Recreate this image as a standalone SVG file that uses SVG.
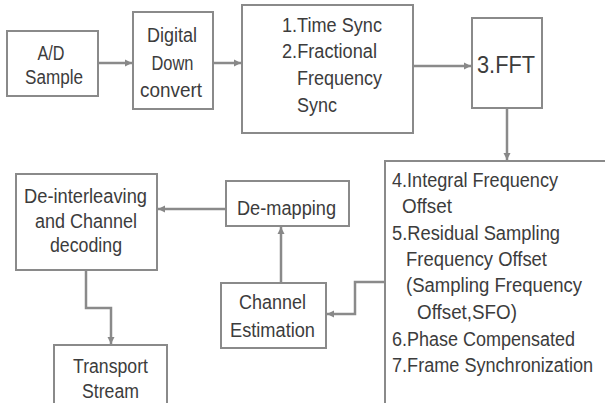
<svg xmlns="http://www.w3.org/2000/svg" width="605" height="403" viewBox="0 0 605 403">
<defs>
<marker id="arr" markerUnits="userSpaceOnUse" markerWidth="8" markerHeight="8" refX="7" refY="4" orient="auto">
<path d="M0,0.5 L7,4 L0,7.5 z" fill="#888"/>
</marker>
<style>
.box{fill:#fff;stroke:#8a8a8a;stroke-width:2}
.t{font-family:"Liberation Sans",Arial,sans-serif;font-size:20px;fill:#3c3c3c}
.m{text-anchor:middle}
.c{fill:none;stroke:#8a8a8a;stroke-width:2.5;marker-end:url(#arr)}
</style>
</defs>
<rect width="605" height="403" fill="#fff"/>
<g id="connectors">
<line class="c" x1="98" y1="63" x2="132" y2="63"/>
<line class="c" x1="213" y1="63" x2="241" y2="63"/>
<line class="c" x1="413" y1="66" x2="471" y2="66"/>
<line class="c" x1="507" y1="108" x2="507" y2="160"/>
<polyline class="c" points="385,282 355,282 355,314 327,314"/>
<line class="c" x1="281" y1="283" x2="281" y2="227"/>
<line class="c" x1="226" y1="209" x2="158" y2="209"/>
<polyline class="c" points="86,270 86,308 111,308 111,344"/>
</g>
<g id="ad">
<rect class="box" x="7" y="31" width="91" height="65"/>
<text class="t m" x="51" y="60" textLength="27" lengthAdjust="spacingAndGlyphs">A/D</text>
<text class="t m" x="54" y="84" textLength="58" lengthAdjust="spacingAndGlyphs">Sample</text>
</g>
<g id="ddc">
<rect class="box" x="133" y="12" width="80" height="97"/>
<text class="t m" x="172" y="42" textLength="50" lengthAdjust="spacingAndGlyphs">Digital</text>
<text class="t m" x="172.5" y="70" textLength="42" lengthAdjust="spacingAndGlyphs">Down</text>
<text class="t m" x="171" y="97" textLength="62" lengthAdjust="spacingAndGlyphs">convert</text>
</g>
<g id="sync">
<rect class="box" x="242" y="5" width="171" height="128"/>
<text class="t" x="282" y="32" textLength="100" lengthAdjust="spacingAndGlyphs">1.Time Sync</text>
<text class="t" x="282" y="58" textLength="95" lengthAdjust="spacingAndGlyphs">2.Fractional</text>
<text class="t" x="297" y="85" textLength="85" lengthAdjust="spacingAndGlyphs">Frequency</text>
<text class="t" x="297" y="112" textLength="40" lengthAdjust="spacingAndGlyphs">Sync</text>
</g>
<g id="fft">
<rect class="box" x="472" y="18" width="70" height="90"/>
<text class="t" x="477" y="73" style="font-size:24px" textLength="58" lengthAdjust="spacingAndGlyphs">3.FFT</text>
</g>
<g id="steps">
<rect class="box" x="385" y="161" width="240" height="260"/>
<text class="t" x="392" y="187" textLength="166" lengthAdjust="spacingAndGlyphs">4.Integral Frequency</text>
<text class="t" x="402" y="213" textLength="50" lengthAdjust="spacingAndGlyphs">Offset</text>
<text class="t" x="392" y="240" textLength="168" lengthAdjust="spacingAndGlyphs">5.Residual Sampling</text>
<text class="t" x="406" y="266" textLength="141" lengthAdjust="spacingAndGlyphs">Frequency Offset</text>
<text class="t" x="406" y="292" textLength="176" lengthAdjust="spacingAndGlyphs">(Sampling Frequency</text>
<text class="t" x="417" y="319" textLength="100" lengthAdjust="spacingAndGlyphs">Offset,SFO)</text>
<text class="t" x="392" y="346" textLength="183" lengthAdjust="spacingAndGlyphs">6.Phase Compensated</text>
<text class="t" x="0" y="372" transform="translate(392 0) scale(0.905 1)">7.Frame Synchronization</text>
</g>
<g id="chest">
<rect class="box" x="221" y="283" width="105" height="65"/>
<text class="t m" x="272.5" y="309" textLength="67" lengthAdjust="spacingAndGlyphs">Channel</text>
<text class="t m" x="272.5" y="337" textLength="85" lengthAdjust="spacingAndGlyphs">Estimation</text>
</g>
<g id="demap">
<rect class="box" x="226" y="181" width="123" height="45"/>
<text class="t m" x="286.5" y="215" textLength="99" lengthAdjust="spacingAndGlyphs">De-mapping</text>
</g>
<g id="deint">
<rect class="box" x="16" y="174" width="141" height="96"/>
<text class="t m" x="85.5" y="203" textLength="123" lengthAdjust="spacingAndGlyphs">De-interleaving</text>
<text class="t m" x="86" y="228" textLength="102" lengthAdjust="spacingAndGlyphs">and Channel</text>
<text class="t m" x="86" y="252" textLength="72" lengthAdjust="spacingAndGlyphs">decoding</text>
</g>
<g id="ts">
<rect class="box" x="54" y="345" width="113" height="80"/>
<text class="t m" x="110.5" y="373" textLength="75" lengthAdjust="spacingAndGlyphs">Transport</text>
<text class="t m" x="110.5" y="398" textLength="57" lengthAdjust="spacingAndGlyphs">Stream</text>
</g>
</svg>
